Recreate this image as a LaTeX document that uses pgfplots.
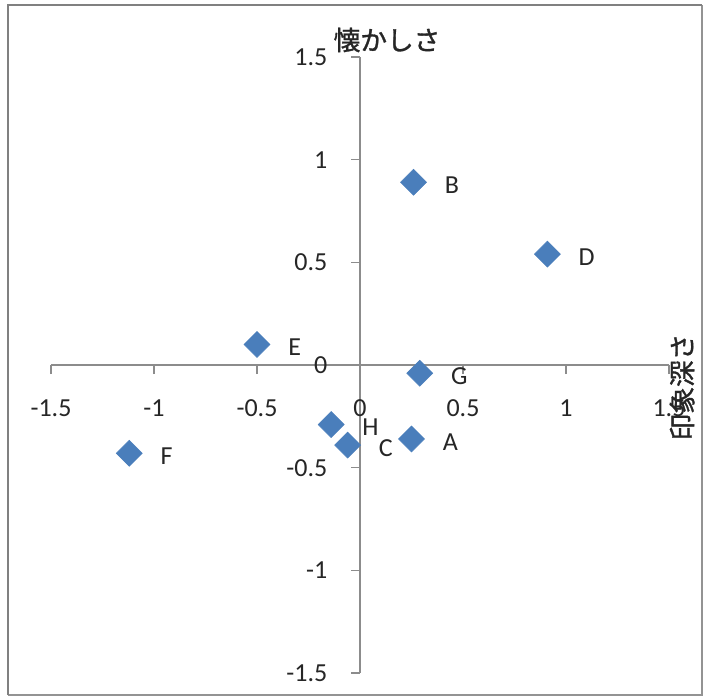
\documentclass[border=0pt]{standalone}
\usepackage{pgfplots}
\pgfplotsset{compat=1.18}
\usepackage{fontspec}
\setmainfont{Carlito}
\newfontfamily\jp[FakeBold=1.2]{Noto Sans CJK JP}

\newlength\px
\setlength\px{0.75pt}

\definecolor{markblue}{HTML}{4A7EBB}
\definecolor{axgray}{HTML}{8C8C8C}
\definecolor{txt}{HTML}{262626}

\pgfplotstableread{
x      y      name
0.25  -0.36   A
0.26   0.89   B
-0.06 -0.39   C
0.91   0.54   D
-0.50  0.10   E
-1.12 -0.43   F
0.29  -0.04   G
-0.14 -0.29   H
}\pointdata

\begin{document}
\begin{tikzpicture}
% page area and chart frame
\fill[white] (0,0) rectangle (707\px,697\px);
\draw[line width=2\px, draw=gray!85] (8\px,2\px) -- (702\px,2\px) -- (702\px,692\px);
\draw[line width=2.5\px, draw=gray] (8\px,2\px) -- (8\px,692\px) -- (702\px,692\px);

\begin{axis}[
  at={(51\px,24\px)}, anchor=south west,
  scale only axis, width=618\px, height=616\px,
  xmin=-1.5, xmax=1.5, ymin=-1.5, ymax=1.5,
  axis lines=middle,
  axis line style={-, draw=axgray, line width=1.2\px},
  hide obscured x ticks=false, hide obscured y ticks=false,
  xtick={-1.5,-1,-0.5,0,0.5,1,1.5},
  ytick={-1.5,-1,-0.5,0,0.5,1,1.5},
  tick style={draw=axgray, line width=1.2\px},
  major tick length=9\px, tick align=outside,
  /pgf/number format/assume math mode=true,
  tick label style={font=\fontsize{19.5}{20}\selectfont, text=txt},
  xticklabel style={anchor=center, yshift=-34\px},
  yticklabel style={anchor=east, xshift=-19\px},
  clip=false,
]
\addplot[only marks, mark=square*, mark size=9.2\px,
  mark options={rotate=45, fill=markblue, draw=markblue},
  nodes near coords, point meta=explicit symbolic,
  every node near coord/.append style={anchor=west, xshift=31\px, yshift=-3\px,
    inner sep=0pt, font=\fontsize{19.5}{20}\selectfont, text=txt}]
  table[x=x, y=y, meta=name] {\pointdata};
\end{axis}

% axis titles
\node[font=\jp\fontsize{20}{22}\selectfont, text=txt] at (387\px,657\px) {懐かしさ};
\node[font=\jp\fontsize{20}{22}\selectfont, text=txt, rotate=90] at (682\px,310\px) {印象深さ};
\end{tikzpicture}
\end{document}
